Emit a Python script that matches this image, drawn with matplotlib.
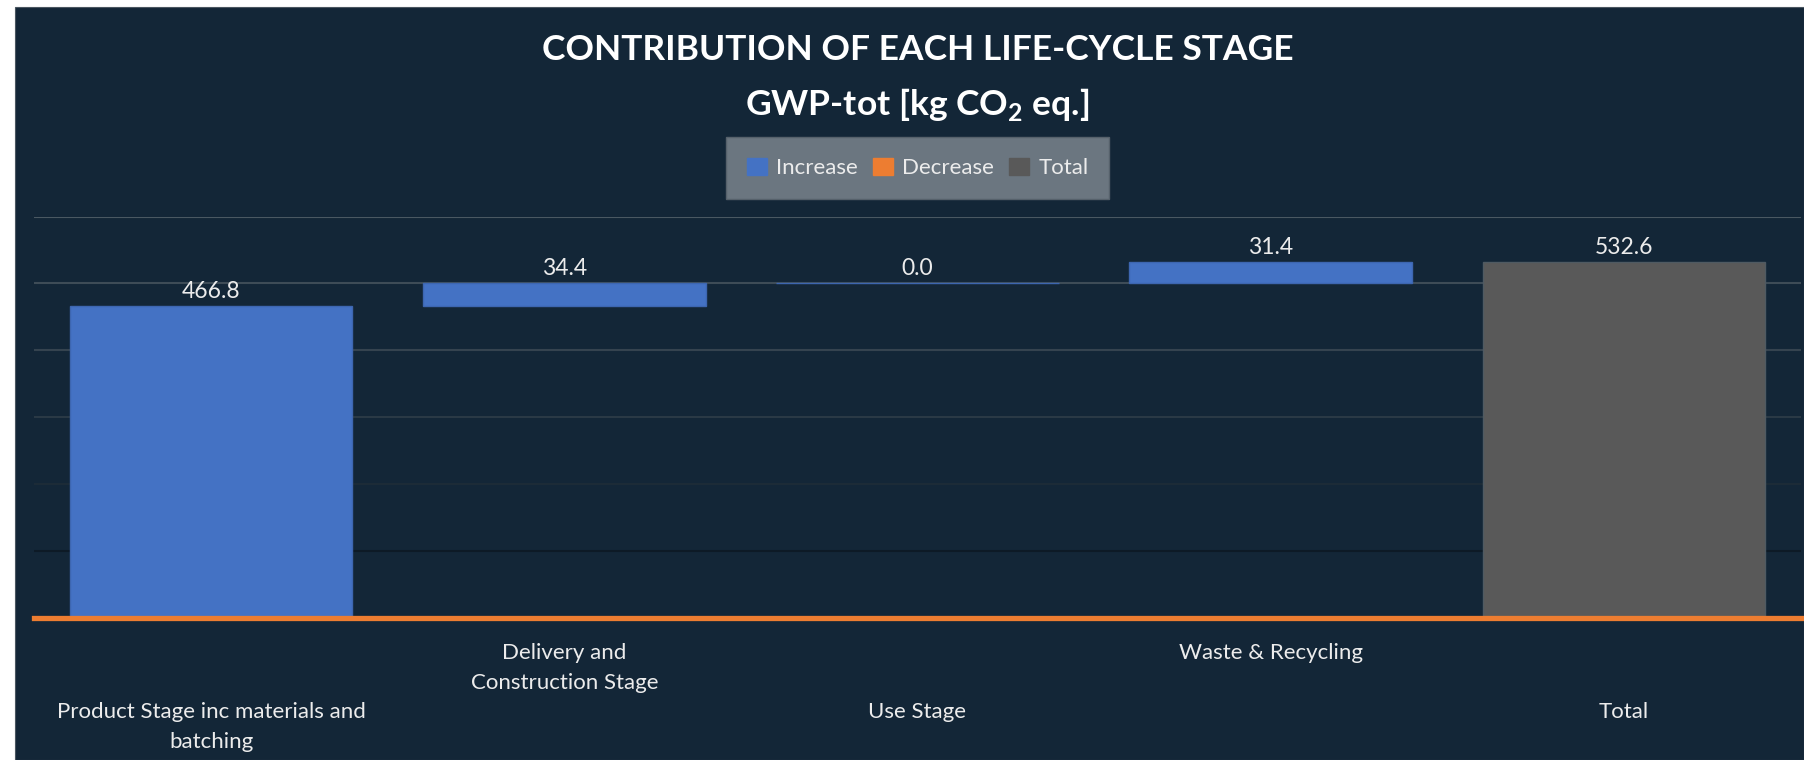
import matplotlib
matplotlib.use("Agg")
import matplotlib.pyplot as plt
from matplotlib.patches import Patch, Rectangle
import numpy as np

# ---- data ----
categories = ["Product Stage inc materials and\nbatching",
              "Delivery and\nConstruction Stage",
              "Use Stage",
              "Waste & Recycling",
              "Total"]
values = [466.8, 34.4, 0.0, 31.4, 532.6]
kinds = ["Increase", "Increase", "Increase", "Increase", "Total"]
value_labels = ["466.8", "34.4", "0.0", "31.4", "532.6"]
legend_labels = ["Increase", "Decrease", "Total"]
grid_ticks = [0, 100, 200, 300, 400, 500, 600]

# ---- style ----
BG = "#132637"
C_INC = "#4472C4"
C_DEC = "#ED7D31"
C_TOT = "#595959"
TXT = "#ECECEC"
FONT = "Lato"

plt.rcParams["font.family"] = [FONT, "DejaVu Sans"]
plt.rcParams["mathtext.fontset"] = "custom"
plt.rcParams["mathtext.rm"] = FONT
plt.rcParams["mathtext.bf"] = FONT + ":bold"

W, H = 1804, 760
fig = plt.figure(figsize=(W / 100, H / 100), dpi=100, facecolor="white")
# dark chart area with white margin at left/top
bg = Rectangle((15 / W, 0), 1 - 15 / W, 1 - 7 / H,
               transform=fig.transFigure, facecolor=BG,
               edgecolor="#4a5660", lw=0.8, zorder=-10)
fig.patches.append(bg)

ax_l, ax_r = 34.4, 1800.6
ax_top, ax_bot = 216.5, 617.5
ax = fig.add_axes([ax_l / W, 1 - ax_bot / H, (ax_r - ax_l) / W, (ax_bot - ax_top) / H])
ax.set_facecolor("none")
ax.set_zorder(1)

x = np.arange(len(categories))
bottoms = []
running = 0.0
for v, k in zip(values, kinds):
    if k == "Total":
        bottoms.append(0.0)
    else:
        bottoms.append(running)
        running += v
colors = [C_INC if k == "Increase" else C_TOT for k in kinds]
edges = ["#3d66b0" if k == "Increase" else "#4f5a62" for k in kinds]

bars = ax.bar(x, values, bottom=bottoms, width=0.8, color=colors,
              edgecolor=edges, linewidth=1.0, zorder=3)

for xi, v, b, lab in zip(x, values, bottoms, value_labels):
    ax.annotate(lab, (xi, b + v), xytext=(0, 2.5), textcoords="offset points",
                ha="center", va="bottom", color=TXT, fontsize=16.5, zorder=5)

ax.set_xlim(-0.5, len(categories) - 0.5)
ax.set_ylim(0, 600)

# gridlines (fading toward the bottom)
grid_colors = ["#0b1620", "#0d1a26", "#1c2b37", "#2a3945", "#35434f", "#3e4c57", "#4a5862"]
for yv, gc in zip(grid_ticks, grid_colors):
    if yv == 0:
        continue
    ax.axhline(yv, color=gc, lw=1.5, zorder=1)
ax.axhline(0, color=C_DEC, lw=3.8, zorder=4, clip_on=False)

ax.set_yticks([])
for s in ax.spines.values():
    s.set_visible(False)

ticklabels = [("\n\n" + c) if i % 2 == 0 else c for i, c in enumerate(categories)]
ax.set_xticks(x)
ax.set_xticklabels(ticklabels, color=TXT, fontsize=16, linespacing=1.6)
ax.tick_params(axis="x", length=0, pad=18.5)

# title
cx = (ax_l + ax_r) / 2 / W
fig.text(cx, 1 - 60 / H, "CONTRIBUTION OF EACH LIFE-CYCLE STAGE", ha="center",
         va="baseline", color="white", fontsize=25.5, fontweight="bold")
fig.text(cx, 1 - 115 / H, r"GWP-tot [kg CO$_\mathbf{2}$ eq.]", ha="center",
         va="baseline", color="white", fontsize=25.5, fontweight="bold")

handles = [Patch(facecolor=C_INC, edgecolor=C_INC),
           Patch(facecolor=C_DEC, edgecolor=C_DEC),
           Patch(facecolor=C_TOT, edgecolor=C_TOT)]
leg = fig.legend(handles, legend_labels, loc="center", bbox_to_anchor=(cx, 1 - 168 / H),
                 ncol=3, frameon=True, fancybox=False, fontsize=16,
                 handlelength=0.9, handleheight=0.85, handletextpad=0.4,
                 columnspacing=0.7, borderpad=0.95)
leg.get_frame().set_facecolor("#6b7680")
leg.get_frame().set_edgecolor("#56616b")
leg.get_frame().set_alpha(1)
for t in leg.get_texts():
    t.set_color(TXT)

fig.savefig("out.png", dpi=100, facecolor="white")
